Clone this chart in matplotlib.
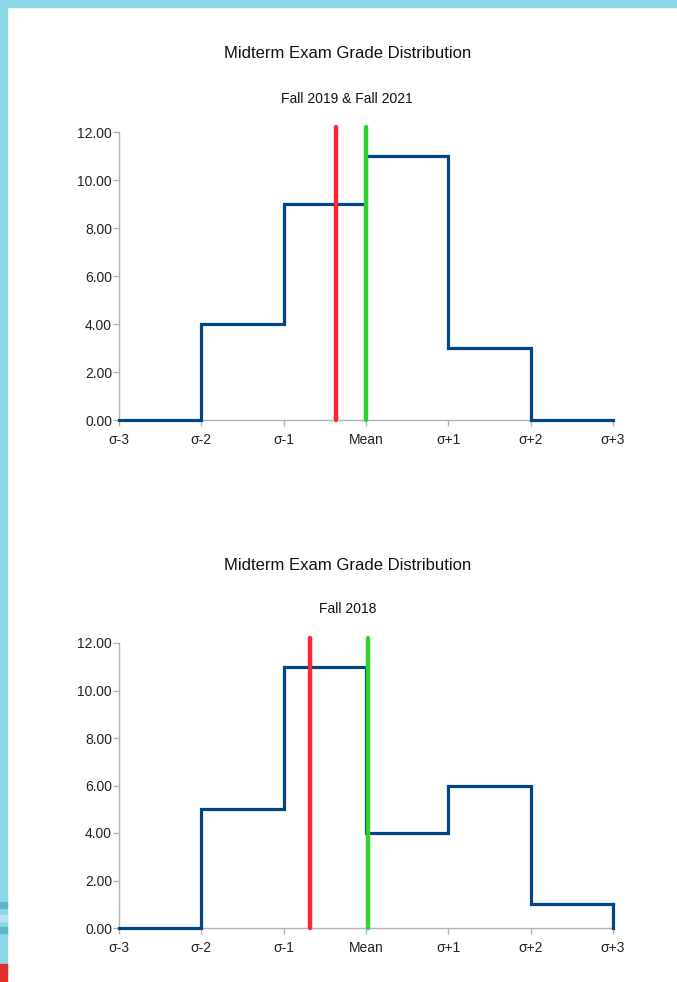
import matplotlib.pyplot as plt
from matplotlib.patches import Rectangle

# x positions in std-dev units relative to mean
tick_labels = ["σ-3", "σ-2", "σ-1", "Mean", "σ+1", "σ+2", "σ+3"]
bin_edges = [-3, -2, -1, 0, 1, 2, 3]

counts_2019_2021 = [0, 4, 9, 11, 3, 0]
counts_2018 = [0, 5, 11, 4, 6, 1]

# red / green marker lines (position in sigma units)
red_2019_2021, green_2019_2021 = -0.36, 0.0
red_2018, green_2018 = -0.68, 0.02

BLUE = "#004586"
RED = "#ff2436"
GREEN = "#2fd12f"
BG = "#8cd8e8"

plt.rcParams['font.family'] = ['Liberation Sans', 'DejaVu Sans']

fig = plt.figure(figsize=(6.77, 9.82), dpi=100)
fig.patch.set_facecolor("white")

# page background strips
fig.add_artist(Rectangle((0, 0), 7 / 677, 1, transform=fig.transFigure, color=BG, zorder=0))
fig.add_artist(Rectangle((0, 1 - 7 / 982), 1, 7 / 982, transform=fig.transFigure, color=BG, zorder=0))
for y0, c in [(0.075, "#5bb6c8"), (0.062, "#b9e3ec"), (0.050, "#5bb6c8")]:
    fig.add_artist(Rectangle((0, y0), 7 / 677, 0.006, transform=fig.transFigure, color=c, zorder=1))
fig.add_artist(Rectangle((0, 0), 7 / 677, 0.018, transform=fig.transFigure, color="#e0302c", zorder=1))


def draw_panel(rect, counts, red_x, green_x, subtitle, title_y, sub_y, drop_end):
    ax = fig.add_axes(rect)
    xs = list(bin_edges)
    ys = list(counts) + [counts[-1]]
    ax.step(xs, ys, where="post", color=BLUE, lw=2.3, solid_joinstyle="miter",
            clip_on=False, zorder=3)
    if drop_end:
        ax.plot([xs[-1], xs[-1]], [counts[-1], 0], color=BLUE, lw=2.3,
                clip_on=False, zorder=3)
    ax.plot([red_x, red_x], [0, 12.2], color=RED, lw=3.2, solid_capstyle="round",
            clip_on=False, zorder=4)
    ax.plot([green_x, green_x], [0, 12.2], color=GREEN, lw=3.2, solid_capstyle="round",
            clip_on=False, zorder=4)

    ax.set_xlim(-3, 3)
    ax.set_ylim(0, 12)
    ax.set_xticks(bin_edges)
    ax.set_xticklabels(tick_labels)
    ax.set_yticks(range(0, 13, 2))
    ax.set_yticklabels([f"{v:.2f}" for v in range(0, 13, 2)])
    for s in ["top", "right"]:
        ax.spines[s].set_visible(False)
    for s in ["left", "bottom"]:
        ax.spines[s].set_color("#b3b3b3")
        ax.spines[s].set_linewidth(1.0)
    ax.tick_params(axis="both", colors="#b3b3b3", labelcolor="#222222",
                   labelsize=10, length=4, width=1.0)
    ax.tick_params(axis="y", pad=1)
    ax.tick_params(axis="x", pad=5)

    fig.text(0.513, title_y, "Midterm Exam Grade Distribution", ha="center", va="center",
             fontsize=12, color="#111111")
    fig.text(0.513, sub_y, subtitle, ha="center", va="center", fontsize=10, color="#111111")
    return ax


draw_panel([119 / 677, 1 - 420 / 982, 494 / 677, 288 / 982],
           counts_2019_2021, red_2019_2021, green_2019_2021,
           "Fall 2019 & Fall 2021", 1 - 54 / 982, 1 - 99 / 982, drop_end=False)
draw_panel([119 / 677, 1 - 928 / 982, 494 / 677, 285 / 982],
           counts_2018, red_2018, green_2018,
           "Fall 2018", 1 - 566 / 982, 1 - 609 / 982, drop_end=True)

fig.savefig("out.png", dpi=100)
